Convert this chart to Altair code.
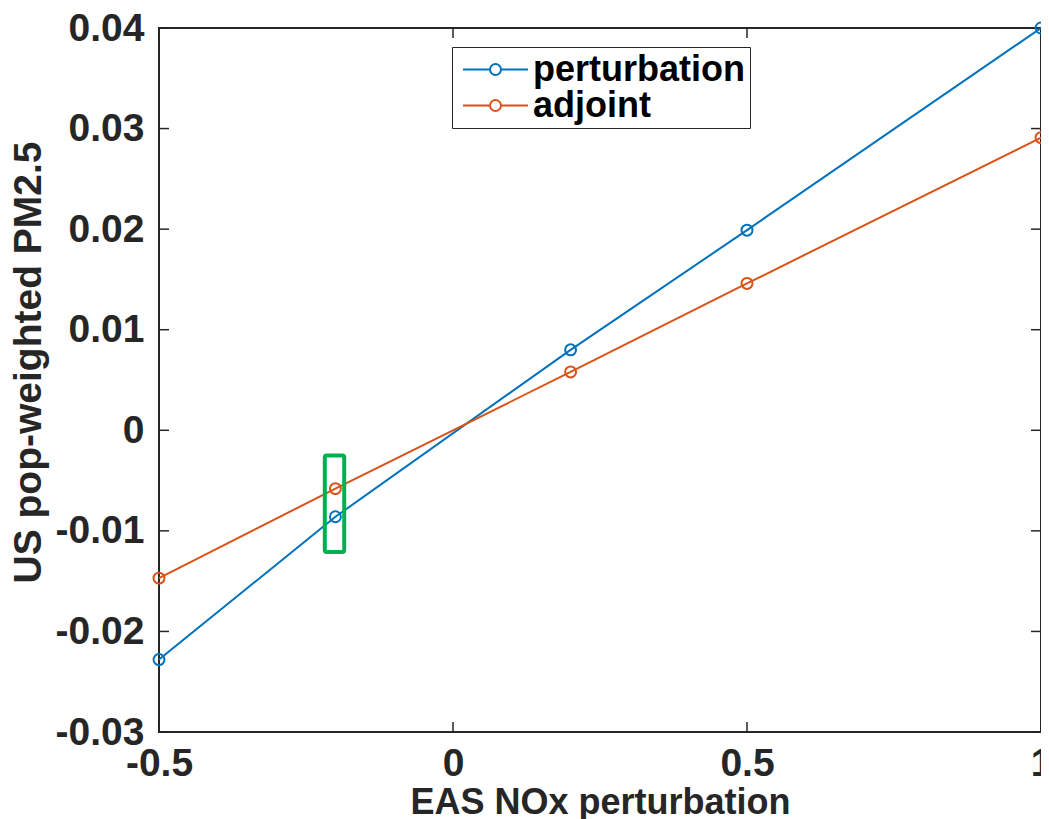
import altair as alt
import pandas as pd

# ---- data ----
x_vals = [-0.5, -0.2, 0.2, 0.5, 1.0]
perturbation = [-0.0228, -0.0086, 0.0080, 0.0199, 0.0400]
adjoint = [-0.0147, -0.0058, 0.0058, 0.0146, 0.0291]
series_names = ["perturbation", "adjoint"]
series_colors = ["#0072BD", "#D95319"]

x_ticks = [-0.5, 0, 0.5, 1]
y_ticks = [-0.03, -0.02, -0.01, 0, 0.01, 0.02, 0.03, 0.04]

# highlight box around x = -0.2
box_x = [-0.218]
box_x2 = [-0.185]
box_y = [-0.0025]
box_y2 = [-0.0121]

W, H = 882, 704
TICK = 10
AXC = "#262626"
FONT = "Liberation Sans"

rows = []
for name, vals in zip(series_names, [perturbation, adjoint]):
    for xv, yv in zip(x_vals, vals):
        rows.append({"x": xv, "y": yv, "series": name})
df = pd.DataFrame(rows)

xs = alt.Scale(domain=[-0.5, 1], nice=False, zero=False)
ys = alt.Scale(domain=[-0.03, 0.04], nice=False, zero=False)

# legend symbol: a line with a small open circle in the middle
sym_path = ("M-2.708,0L-0.458,0M0.458,0L2.708,0"
            "M0.458,0A0.458,0.458,0,1,1,-0.458,0A0.458,0.458,0,1,1,0.458,0")

color = alt.Color(
    "series:N",
    scale=alt.Scale(domain=series_names, range=series_colors),
    legend=alt.Legend(
        title=None,
        orient="none",
        legendX=293,
        legendY=19,
        direction="vertical",
        labelFont=FONT,
        labelFontSize=36,
        labelFontWeight="bold",
        labelColor="black",
        labelLimit=400,
        labelOffset=19.5,
        symbolOffset=21,
        symbolType=sym_path,
        symbolSize=576,
        symbolStrokeWidth=2,
        symbolFillColor="transparent",
        strokeColor=AXC,
        fillColor="white",
        padding=4.5,
        rowPadding=-5.5,
    ),
)

x_axis = alt.Axis(
    values=x_ticks,
    labelExpr="toString(datum.value)",
    title="EAS NOx perturbation",
    titleFont=FONT,
    titleFontSize=36,
    titleFontWeight="bold",
    titleColor=AXC,
    titleBaseline="alphabetic",
    titleY=81,
    labelFont=FONT,
    labelFontSize=39,
    labelFontWeight="bold",
    labelColor=AXC,
    labelPadding=12,
    ticks=False,
    domain=False,
    grid=False,
    labelFlush=False,
    labelOverlap=False,
)
y_axis = alt.Axis(
    values=y_ticks,
    labelExpr="datum.value == 0 ? '0' : toString(round(datum.value * 100) / 100)",
    title="US pop-weighted PM2.5",
    titleFont=FONT,
    titleFontSize=39,
    titleFontWeight="bold",
    titleColor=AXC,
    titleBaseline="alphabetic",
    titleX=-119,
    titleY=334,
    labelFont=FONT,
    labelFontSize=39,
    labelFontWeight="bold",
    labelColor=AXC,
    labelPadding=15,
    ticks=False,
    domain=False,
    grid=False,
    labelFlush=False,
    labelOverlap=False,
)

base = alt.Chart(df)
lines = base.mark_line(strokeWidth=2).encode(
    x=alt.X("x:Q", scale=xs, axis=x_axis),
    y=alt.Y("y:Q", scale=ys, axis=y_axis),
    color=color,
)
points = base.mark_point(shape="circle", size=120, filled=False, strokeWidth=2, opacity=1).encode(
    x=alt.X("x:Q", scale=xs),
    y=alt.Y("y:Q", scale=ys),
    color=alt.Color("series:N", scale=alt.Scale(domain=series_names, range=series_colors), legend=None),
)

box_df = pd.DataFrame({"x": box_x, "x2": box_x2, "y": box_y, "y2": box_y2})
box = alt.Chart(box_df).mark_rect(
    fill=None, fillOpacity=0, stroke="#00B050", strokeWidth=4, cornerRadius=2
).encode(
    x=alt.X("x:Q", scale=xs), x2="x2:Q",
    y=alt.Y("y:Q", scale=ys), y2="y2:Q",
)

yt = pd.DataFrame({"v": y_ticks})
xt = pd.DataFrame({"v": x_ticks})
tick_style = dict(color=AXC, strokeWidth=1.5)
yt_left = alt.Chart(yt).mark_rule(**tick_style).encode(
    y=alt.Y("v:Q", scale=ys), x=alt.value(0), x2=alt.value(TICK))
yt_right = alt.Chart(yt).mark_rule(**tick_style).encode(
    y=alt.Y("v:Q", scale=ys), x=alt.value(W - TICK), x2=alt.value(W))
xt_bottom = alt.Chart(xt).mark_rule(**tick_style).encode(
    x=alt.X("v:Q", scale=xs), y=alt.value(H - TICK), y2=alt.value(H))
xt_top = alt.Chart(xt).mark_rule(**tick_style).encode(
    x=alt.X("v:Q", scale=xs), y=alt.value(0), y2=alt.value(TICK))

chart = alt.layer(
    yt_left, yt_right, xt_bottom, xt_top, lines, points, box
).properties(
    width=W,
    height=H,
    autosize=alt.AutoSizeParams(type="none"),
    padding={"left": 151, "top": 20, "right": 0, "bottom": 88},
    background="white",
).configure_view(
    stroke=AXC, strokeWidth=2
)

chart.save("out.html", embed_options={"renderer": "svg", "actions": False})
